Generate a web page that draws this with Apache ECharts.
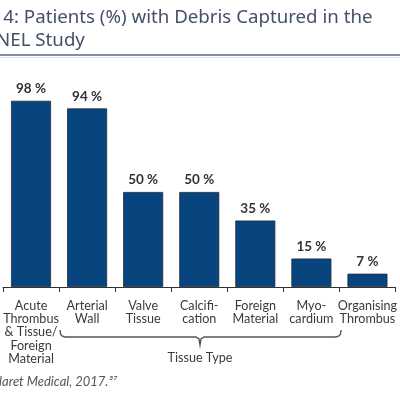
<!DOCTYPE html>
<html><head><meta charset="utf-8">
<script src="https://cdn.jsdelivr.net/npm/echarts@6/dist/echarts.min.js"></script>
<style>html,body{margin:0;padding:0;background:#fff}#c{width:400px;height:400px}</style>
</head><body><div id="c"></div>
<script>
var categories = ["Acute\nThrombus\n& Tissue/\nForeign\nMaterial","Arterial\nWall","Valve\nTissue","Calcifi-\ncation","Foreign\nMaterial","Myo-\ncardium","Organising\nThrombus"];
var values = [98, 94, 50, 50, 35, 15, 7];
var titleLines = ["Figure 4: Patients (%) with Debris Captured in the", "SENTINEL Study"];
var groupLabel = "Tissue Type";
var sourceText = "Claret Medical, 2017.³⁷";

var chart = echarts.init(document.getElementById('c'), null, {renderer:'canvas'});
var titleFont = '"Noto Sans", sans-serif';
var bodyFont = 'Lato, sans-serif';
chart.setOption({
  animation:false,
  grid:{left:3, right:3, top:97, bottom:113, containLabel:false},
  xAxis:{type:'category', data:categories,
    axisLine:{lineStyle:{color:'#333', width:1}},
    axisTick:{show:true, length:5, lineStyle:{color:'#333'}},
    axisLabel:{interval:0, margin:12, fontFamily:bodyFont, fontSize:12.6, lineHeight:13.3, color:'#3a3a3a'}
  },
  yAxis:{type:'value', min:0, max:100, show:false, splitLine:{show:false}},
  series:[{type:'bar', data:values, barWidth:40,
    itemStyle:{color:'#08457f', borderColor:'#1d2b3b', borderWidth:0.8},
    label:{show:true, position:'top', distance:5, formatter:'{c} %', fontFamily:bodyFont, fontWeight:'bold', fontSize:13.5, color:'#333'}
  }],
  graphic:[
    {type:'text', x:-57, y:8, style:{text:titleLines[0], font:'18.7px '+titleFont, fill:'#44506b'}},
    {type:'text', x:-55.5, y:31, style:{text:titleLines[1], font:'18.7px '+titleFont, fill:'#44506b'}},
    {type:'line', shape:{x1:0,y1:55,x2:400,y2:55}, style:{stroke:'#5b6a82', lineWidth:1.5}},
    {type:'line', shape:{x1:0,y1:57.5,x2:400,y2:57.5}, style:{stroke:'#dfe6ef', lineWidth:1}},
    {type:'polyline', shape:{points:[[60,330],[60.5,334],[62,336],[65,337],[196,337],[199,339],[200,345],[201,339],[204,337],[336,337],[339,336],[340.5,334],[341,330]]},
      style:{stroke:'#555', lineWidth:1.4, fill:null}},
    {type:'text', x:200, y:358, style:{text:groupLabel, font:'12.6px '+bodyFont, fill:'#3a3a3a', align:'center', verticalAlign:'middle'}},
    {type:'text', x:-9, y:382, style:{text:sourceText, font:'italic 13px '+bodyFont, fill:'#555', verticalAlign:'middle'}}
  ]
});
</script></body></html>
